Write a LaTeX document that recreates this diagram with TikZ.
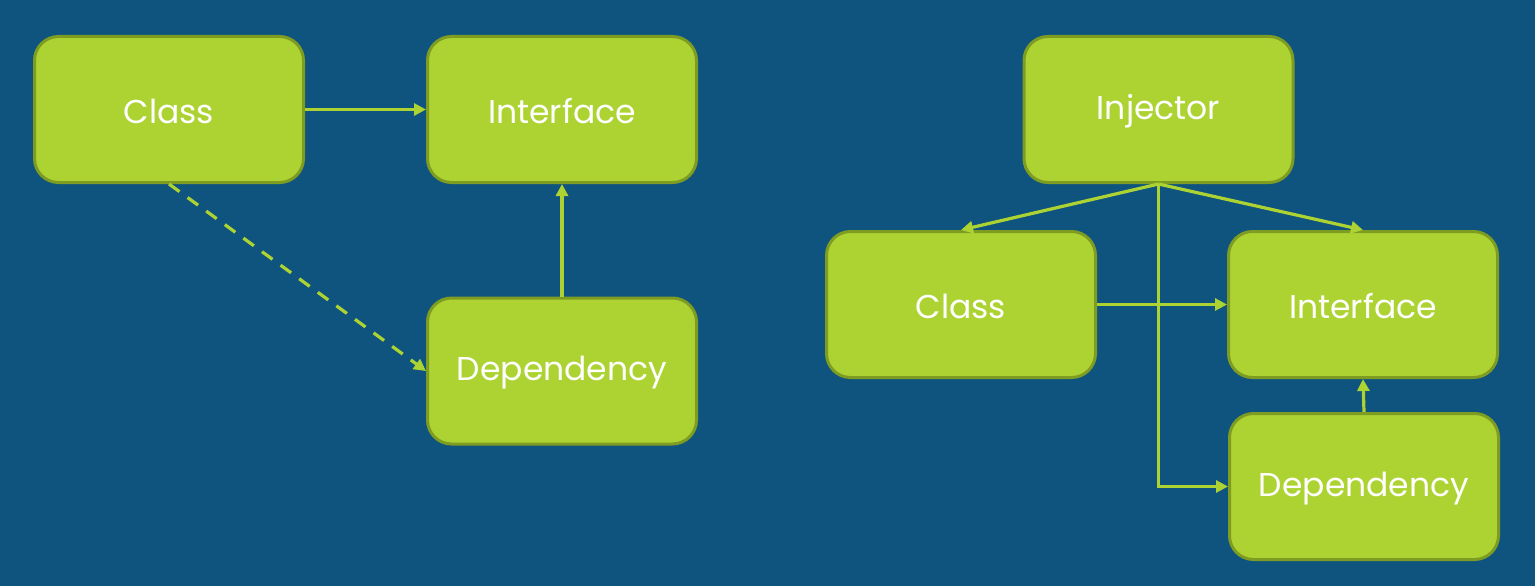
\documentclass[tikz,border=0pt]{standalone}
\usepackage{fontspec}
\setmainfont{Poppins}
\usetikzlibrary{arrows.meta}
\definecolor{bg}{HTML}{0F547F}
\definecolor{boxfill}{HTML}{ADD333}
\definecolor{boxline}{HTML}{7F9C22}
\newcommand{\boxtext}[1]{\raisebox{-2pt}[\height][\depth]{#1}}
\tikzset{
  box/.style={draw=boxline, fill=boxfill, line width=3pt, rounded corners=24pt,
    minimum width=269pt, minimum height=146pt, text=white, inner sep=0pt,
    font=\fontsize{33}{38}\selectfont},
  conn/.style={draw=boxfill, line width=3.2pt, -{Triangle[length=12pt,width=12pt]}},
  dconn/.style={conn, dash pattern=on 13pt off 10pt},
}
\begin{document}
\begin{tikzpicture}[x=1pt,y=-1pt]
\fill[bg] (0,0) rectangle (1535,586);
\useasboundingbox (0,0) rectangle (1535,586);
% left diagram
\node[box] (lc) at (169,109.5) {\boxtext{Class}};
\node[box] (li) at (562,109.5) {\boxtext{Interface}};
\node[box] (ld) at (562,371) {\boxtext{Dependency}};
\draw[conn] (lc.east) -- (li.west);
\draw[dconn] (lc.south) -- (ld.west);
\draw[conn] (ld.north) -- (li.south);
% right diagram
\node[box] (inj) at (1158.5,109.5) {\boxtext{Injector}};
\node[box] (rc) at (961,304.5) {\boxtext{Class}};
\node[box] (ri) at (1363,304.5) {\boxtext{Interface}};
\node[box] (rd) at (1364,486.5) {\boxtext{Dependency}};
\coordinate (bend) at (inj.south |- rd.west);
\draw[conn] (inj.south) -- (rc.north);
\draw[conn] (inj.south) -- (ri.north);
\draw[conn] (inj.south) -- (bend) -- (rd.west);
\draw[conn] (rc.east) -- (ri.west);
\draw[conn] (rd.north) -- (ri.south);
\end{tikzpicture}
\end{document}
